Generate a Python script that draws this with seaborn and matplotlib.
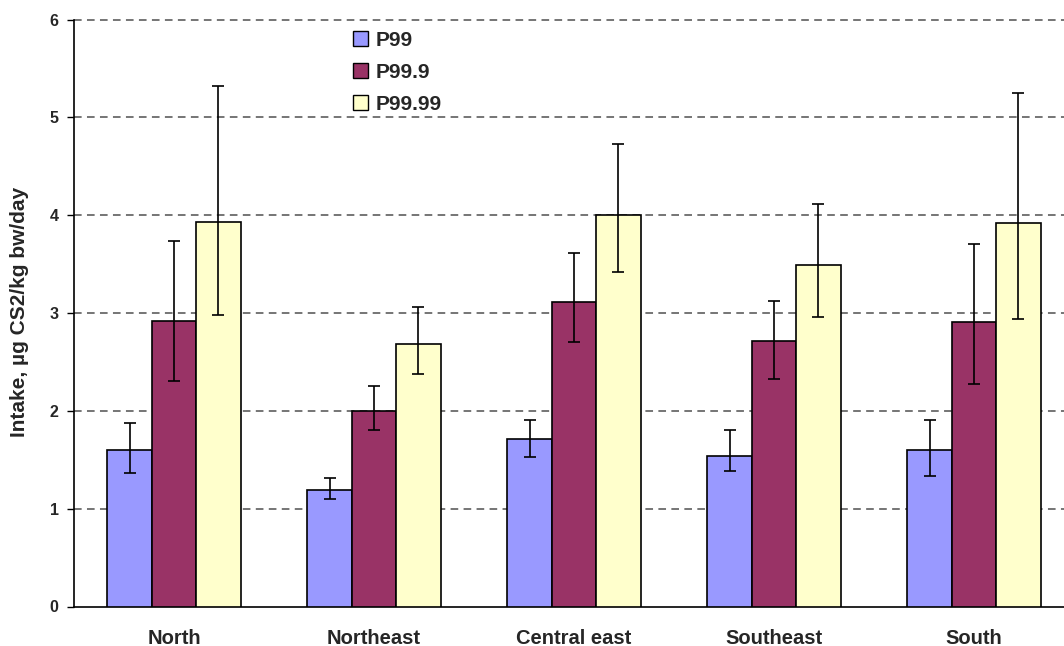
import matplotlib
matplotlib.use("Agg")
import matplotlib.pyplot as plt
from matplotlib.patches import Patch
import seaborn as sns
import pandas as pd
import numpy as np

regions = ["North", "Northeast", "Central east", "Southeast", "South"]
series = ["P99", "P99.9", "P99.99"]
colors = ["#9999FF", "#993366", "#FFFFCC"]

p99 = [1.60, 1.19, 1.71, 1.54, 1.60]
p99_lo = [1.36, 1.10, 1.53, 1.39, 1.33]
p99_hi = [1.88, 1.31, 1.91, 1.80, 1.91]

p999 = [2.92, 2.00, 3.11, 2.71, 2.91]
p999_lo = [2.31, 1.80, 2.70, 2.33, 2.27]
p999_hi = [3.74, 2.25, 3.61, 3.12, 3.71]

p9999 = [3.93, 2.68, 4.00, 3.49, 3.92]
p9999_lo = [2.98, 2.38, 3.42, 2.96, 2.94]
p9999_hi = [5.32, 3.06, 4.73, 4.11, 5.25]

yticks = [0, 1, 2, 3, 4, 5, 6]
ylabel = "Intake, µg CS2/kg bw/day"

sns.set_style("white")
plt.rcParams["font.family"] = ["Liberation Sans", "DejaVu Sans"]
plt.rcParams["font.weight"] = "bold"

vals = [p99, p999, p9999]
los = [p99_lo, p999_lo, p9999_lo]
his = [p99_hi, p999_hi, p9999_hi]

df = pd.DataFrame({
    "region": np.repeat([regions], 3, axis=0).ravel(),
    "series": np.repeat(series, len(regions)),
    "value": np.concatenate(vals),
})

W, H = 1064, 646
fig = plt.figure(figsize=(W / 100, H / 100), dpi=100)
ax = fig.add_axes([74 / W, 39.5 / H, 1000 / W, 587 / H])

sns.barplot(data=df, x="region", y="value", hue="series", order=regions,
            hue_order=series, palette=colors, saturation=1, edgecolor="black",
            linewidth=1.2, width=0.667, gap=0, errorbar=None, legend=False,
            ax=ax, zorder=3)

for cont, v, lo, hi in zip(ax.containers, vals, los, his):
    xs = [r.get_x() + r.get_width() / 2 for r in cont]
    v = np.array(v); lo = np.array(lo); hi = np.array(hi)
    ax.errorbar(xs, v, yerr=[v - lo, hi - v], fmt="none", ecolor="black",
                elinewidth=1.2, capsize=4.5, capthick=1.2, zorder=4)

ax.set_ylim(0, 6)
ax.set_xlim(-0.5, len(regions) - 0.5)
ax.set_yticks(yticks)
ax.set_yticklabels([str(t) for t in yticks], fontsize=11.5, fontweight="bold")
for t in yticks[1:]:
    ax.axhline(t, color="#505050", lw=1.1, linestyle=(0, (5, 3.5)), zorder=1, clip_on=False)

ax.set_xticks(range(len(regions)))
ax.set_xticklabels(regions, fontsize=14.5, fontweight="bold")
ax.tick_params(axis="x", which="major", length=0, pad=16)
ax.set_xticks(np.arange(-0.5, len(regions) - 0.5, 1), minor=True)
ax.tick_params(axis="x", which="minor", length=6, width=1.0, color="#333333", direction="out")
ax.tick_params(axis="y", length=5, width=1.0, direction="out", pad=6, left=True, color="black")

for s in ["top", "right"]:
    ax.spines[s].set_visible(False)
for s in ["left", "bottom"]:
    ax.spines[s].set_color("black")
    ax.spines[s].set_linewidth(1.2)

ax.set_xlabel("")
ax.set_ylabel("")
fig.text(20 / W, 1 - 312 / H, ylabel, rotation=90, ha="center", va="center",
         fontsize=15, fontweight="bold")

handles = [Patch(facecolor=c, edgecolor="black", linewidth=1.0) for c in colors]
ax.legend(handles, series, loc="upper left", bbox_to_anchor=(353 / W, 1 - 31 / H),
          bbox_transform=fig.transFigure, frameon=False, prop={"size": 15, "weight": "bold"},
          handlelength=0.72, handleheight=0.72, handletextpad=0.35, labelspacing=0.62,
          borderpad=0, borderaxespad=0)

fig.savefig("out.png", dpi=100)
